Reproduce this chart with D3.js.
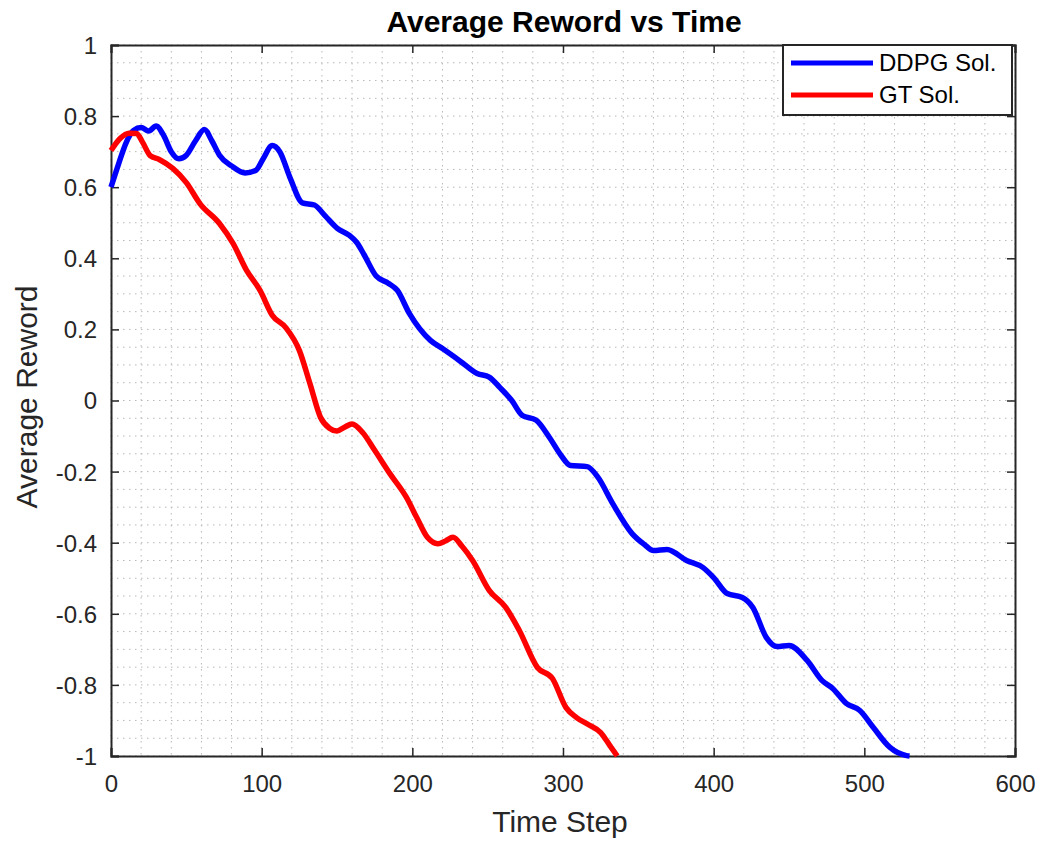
<!DOCTYPE html>
<html>
<head>
<meta charset="utf-8">
<script src="https://cdn.jsdelivr.net/npm/d3@7"></script>
<style>
  html, body { margin: 0; padding: 0; background: #fff; }
  svg { display: block; font-family: "Liberation Sans", Arial, Helvetica, sans-serif; }
</style>
</head>
<body>
<svg id="chart" width="1046" height="843"></svg>
<script>
// ---- data ----
const ddpgX = [0,5,10,15,20,25,30,35,40,45,50,56,62,67,72,80,89,96,101,107,112,119,127,135,142,150,158,163,168,176,184,190,198,212,220,232,243,251,258,266,273,282,291,298,305,316,323,333,346,354,360,369,382,393,400,409,419,426,435,442,450,462,472,479,488,497,506,517,528,530];
const ddpgY = [0.60,0.665,0.725,0.76,0.768,0.758,0.772,0.745,0.70,0.68,0.69,0.73,0.762,0.73,0.69,0.66,0.64,0.647,0.68,0.717,0.70,0.625,0.556,0.55,0.52,0.485,0.465,0.445,0.41,0.35,0.33,0.31,0.245,0.169,0.146,0.11,0.076,0.066,0.037,0.0,-0.042,-0.055,-0.104,-0.15,-0.183,-0.186,-0.215,-0.29,-0.375,-0.405,-0.422,-0.419,-0.45,-0.47,-0.498,-0.543,-0.554,-0.582,-0.667,-0.692,-0.689,-0.731,-0.788,-0.81,-0.852,-0.872,-0.92,-0.976,-0.999,-1.0];
const gtX = [0,6,12,17,21,26,32,41,50,59,72,81,90,99,107,116,125,132,139,145,150,155,160,167,175,185,196,203,210,217,222,227,233,240,251,262,271,283,293,302,309,317,325,331,336];
const gtY = [0.703,0.737,0.752,0.751,0.726,0.689,0.678,0.653,0.613,0.554,0.498,0.442,0.366,0.309,0.24,0.205,0.141,0.048,-0.047,-0.078,-0.086,-0.075,-0.066,-0.09,-0.14,-0.205,-0.272,-0.33,-0.385,-0.403,-0.395,-0.385,-0.41,-0.45,-0.534,-0.582,-0.647,-0.751,-0.782,-0.864,-0.892,-0.912,-0.934,-0.97,-1.0];
const xTicks = [0,100,200,300,400,500,600];
const yTicks = [-1,-0.8,-0.6,-0.4,-0.2,0,0.2,0.4,0.6,0.8,1];
const yTickLabels = ["-1","-0.8","-0.6","-0.4","-0.2","0","0.2","0.4","0.6","0.8","1"];
const seriesNames = ["DDPG Sol.", "GT Sol."];
const seriesColors = ["#0000ff", "#ff0000"];
const titleText = "Average Reword vs Time";
const xLabel = "Time Step";
const yLabel = "Average Reword";

// ---- layout ----
const L = 111, R = 1015, T = 45, B = 756;
const svg = d3.select("#chart");
const x = d3.scaleLinear().domain([0, 600]).range([L, R]);
const y = d3.scaleLinear().domain([-1, 1]).range([B, T]);

// grid (minor + major, dotted)
const grid = svg.append("g");
const xMinor = d3.range(0, 601, 20);
const yMinor = d3.range(-1, 1.0001, 0.05);
grid.selectAll("line.vx").data(xMinor).enter().append("line")
  .attr("x1", d => x(d)).attr("x2", d => x(d)).attr("y1", T).attr("y2", B)
  .attr("stroke", "#b8b8b8").attr("stroke-width", 1).attr("stroke-dasharray", "1.5,4.5");
grid.selectAll("line.hy").data(yMinor).enter().append("line")
  .attr("y1", d => y(d)).attr("y2", d => y(d)).attr("x1", L).attr("x2", R)
  .attr("stroke", "#b8b8b8").attr("stroke-width", 1).attr("stroke-dasharray", "1.5,4.5");

// axes
const axisColor = "#262626";
const xAxis = svg.append("g").attr("transform", `translate(0,${B})`)
  .call(d3.axisBottom(x).tickValues(xTicks).tickSize(-8).tickPadding(19).tickFormat(d3.format("d")));
const xAxisTop = svg.append("g").attr("transform", `translate(0,${T})`)
  .call(d3.axisTop(x).tickValues(xTicks).tickSize(-8).tickFormat(""));
const yAxis = svg.append("g").attr("transform", `translate(${L},0)`)
  .call(d3.axisLeft(y).tickValues(yTicks).tickSize(-8).tickPadding(14).tickFormat((d, i) => yTickLabels[i]));
const yAxisRight = svg.append("g").attr("transform", `translate(${R},0)`)
  .call(d3.axisRight(y).tickValues(yTicks).tickSize(-8).tickFormat(""));
[xAxis, xAxisTop, yAxis, yAxisRight].forEach(g => {
  g.select(".domain").attr("stroke", axisColor).attr("stroke-width", 2);
  g.selectAll(".tick line").attr("stroke", axisColor).attr("stroke-width", 1.5);
  g.selectAll(".tick text").attr("fill", axisColor).style("font-size", "24px")
    .style("font-family", "'Liberation Sans', Arial, sans-serif");
});
yAxis.selectAll(".tick text").attr("dy", "0.35em");

// lines
const lineGen = d3.line().x(d => x(d[0])).y(d => y(d[1])).curve(d3.curveMonotoneX);
const series = [d3.zip(ddpgX, ddpgY), d3.zip(gtX, gtY)];
svg.append("g").selectAll("path.series").data(series).enter().append("path")
  .attr("d", lineGen).attr("fill", "none")
  .attr("stroke", (d, i) => seriesColors[i]).attr("stroke-width", 5.5)
  .attr("stroke-linejoin", "round").attr("stroke-linecap", "butt");

// title & labels
svg.append("text").attr("x", 564).attr("y", 32).attr("text-anchor", "middle")
  .style("font-size", "30px").style("font-weight", "bold").attr("fill", "#000").text(titleText);
svg.append("text").attr("x", x(298)).attr("y", 832).attr("text-anchor", "middle")
  .style("font-size", "30px").attr("fill", axisColor).text(xLabel);
svg.append("text").attr("transform", `translate(37,${y(0.01)}) rotate(-90)`).attr("text-anchor", "middle")
  .style("font-size", "30px").attr("fill", axisColor).text(yLabel);

// legend
const lg = svg.append("g");
lg.append("rect").attr("x", 783).attr("y", 45).attr("width", 229).attr("height", 70)
  .attr("fill", "#fff").attr("stroke", axisColor).attr("stroke-width", 2);
seriesNames.forEach((name, i) => {
  const yy = 63 + i * 32;
  lg.append("line").attr("x1", 791).attr("x2", 873).attr("y1", yy).attr("y2", yy)
    .attr("stroke", seriesColors[i]).attr("stroke-width", 5);
  lg.append("text").attr("x", 879).attr("y", yy).attr("dy", "0.35em")
    .style("font-size", "24px").attr("fill", "#000").text(name);
});
</script>
</body>
</html>
